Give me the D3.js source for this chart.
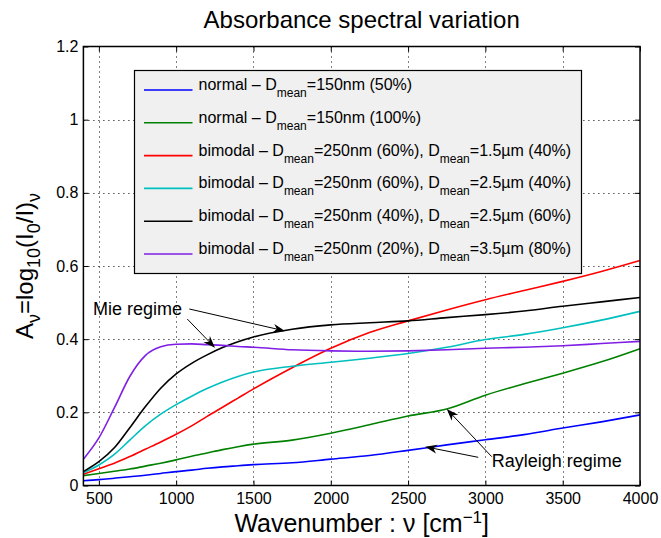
<!DOCTYPE html>
<html>
<head>
<meta charset="utf-8">
<script src="https://cdn.jsdelivr.net/npm/d3@7"></script>
<style>
  body { margin: 0; background: #fff; }
  svg { font-family: "Liberation Sans", Arial, Helvetica, sans-serif; }
</style>
</head>
<body>
<div id="chart"></div>
<script>
// --- Data ---
const wavenumber = [400, 500, 600, 700, 800, 900, 1000, 1100, 1200, 1300, 1400, 1500,
                    1750, 2000, 2250, 2500, 2750, 3000, 3250, 3500, 3750, 4000];

const normal50   = [0.013, 0.016, 0.020, 0.024, 0.028, 0.033, 0.038, 0.042, 0.047, 0.051, 0.054, 0.057,
                    0.062, 0.072, 0.082, 0.096, 0.111, 0.125, 0.139, 0.157, 0.174, 0.193];
const normal100  = [0.027, 0.033, 0.039, 0.045, 0.053, 0.061, 0.070, 0.080, 0.089, 0.098, 0.106, 0.113,
                    0.124, 0.143, 0.166, 0.190, 0.209, 0.247, 0.278, 0.307, 0.338, 0.374];
const bimodal15  = [0.031, 0.046, 0.061, 0.079, 0.099, 0.119, 0.140, 0.163, 0.189, 0.214, 0.239, 0.264,
                    0.322, 0.375, 0.418, 0.450, 0.480, 0.508, 0.533, 0.558, 0.585, 0.615];
const bimodal25a = [0.035, 0.056, 0.085, 0.124, 0.163, 0.195, 0.221, 0.244, 0.265, 0.283, 0.298, 0.310,
                    0.326, 0.337, 0.348, 0.361, 0.378, 0.399, 0.413, 0.431, 0.452, 0.476];
const bimodal25b = [0.038, 0.065, 0.103, 0.158, 0.215, 0.266, 0.305, 0.334, 0.357, 0.377, 0.393, 0.406,
                    0.427, 0.439, 0.445, 0.450, 0.459, 0.467, 0.477, 0.490, 0.502, 0.514];
const bimodal35  = [0.072, 0.130, 0.212, 0.298, 0.355, 0.379, 0.386, 0.387, 0.385, 0.383, 0.380, 0.378,
                    0.371, 0.368, 0.367, 0.368, 0.371, 0.375, 0.378, 0.382, 0.388, 0.394];

const seriesLabels = [
  "normal – D_{mean}=150nm (50%)",
  "normal – D_{mean}=150nm (100%)",
  "bimodal – D_{mean}=250nm (60%), D_{mean}=1.5µm (40%)",
  "bimodal – D_{mean}=250nm (60%), D_{mean}=2.5µm (40%)",
  "bimodal – D_{mean}=250nm (40%), D_{mean}=2.5µm (60%)",
  "bimodal – D_{mean}=250nm (20%), D_{mean}=3.5µm (80%)"
];
const seriesColors = ["#0000ff", "#008000", "#ff0000", "#00bfbf", "#000000", "#7f1fe6"];
const seriesValues = [normal50, normal100, bimodal15, bimodal25a, bimodal25b, bimodal35];

const xTicks = [500, 1000, 1500, 2000, 2500, 3000, 3500, 4000];
const yTicks = [0, 0.2, 0.4, 0.6, 0.8, 1, 1.2];

// annotation arrows in data units: [from, to]
const mieArrows = [[[1085, 0.4825], [1704, 0.4224]], [[1072, 0.455], [1251, 0.3767]]];
const rayleighArrows = [[[3041, 0.0788], [2750, 0.209]], [[2954, 0.077], [2610, 0.106]]];

// --- Layout ---
const width = 661, height = 538;
const plot = { left: 83.4, right: 640, top: 46.5, bottom: 485.5 };

const svg = d3.select("#chart").append("svg")
    .attr("width", width)
    .attr("height", height);

const x = d3.scaleLinear().domain([400, 4000]).range([plot.left, plot.right]);
const y = d3.scaleLinear().domain([0, 1.2]).range([plot.bottom, plot.top]);

// helper: text with _{sub} / ^{sup} markup
function richText(sel, str, size, subSize, shift) {
  const parts = str.split(/(_\{[^}]*\}|\^\{[^}]*\})/).filter(s => s.length);
  let offset = 0;
  parts.forEach(p => {
    const t = sel.append("tspan");
    let dy = 0;
    if (p.startsWith("_{")) {
      dy = shift - offset; offset = shift;
      t.text(p.slice(2, -1)).attr("font-size", subSize);
    } else if (p.startsWith("^{")) {
      dy = -shift * 1.1 - offset; offset = -shift * 1.1;
      t.text(p.slice(2, -1)).attr("font-size", subSize);
    } else {
      dy = -offset; offset = 0;
      t.text(p).attr("font-size", size);
    }
    if (dy !== 0) t.attr("dy", dy);
  });
}

// --- Grid (dotted) ---
const grid = svg.append("g").attr("stroke", "#000").attr("stroke-width", 1)
    .attr("stroke-dasharray", "1,4");
grid.selectAll(".vg").data(xTicks.filter(d => d < 4000)).join("line")
    .attr("x1", d => Math.round(x(d)) + 0.5).attr("x2", d => Math.round(x(d)) + 0.5)
    .attr("y1", plot.top).attr("y2", plot.bottom);
grid.selectAll(".hg").data(yTicks.filter(d => d > 0 && d < 1.2)).join("line")
    .attr("y1", d => Math.round(y(d)) + 0.5).attr("y2", d => Math.round(y(d)) + 0.5)
    .attr("x1", plot.left).attr("x2", plot.right);

// --- Axes (inward ticks on all four sides) ---
const fmt = d3.format("~g");
svg.append("g").attr("transform", `translate(0,${plot.bottom})`)
    .call(d3.axisBottom(x).tickValues(xTicks).tickSizeInner(-5).tickSizeOuter(0).tickPadding(7).tickFormat(fmt))
    .call(g => g.select(".domain").remove());
svg.append("g").attr("transform", `translate(0,${plot.top})`)
    .call(d3.axisTop(x).tickValues(xTicks).tickSizeInner(-5).tickSizeOuter(0).tickFormat(""))
    .call(g => g.select(".domain").remove());
svg.append("g").attr("transform", `translate(${plot.left},0)`)
    .call(d3.axisLeft(y).tickValues(yTicks).tickSizeInner(-5).tickSizeOuter(0).tickPadding(5).tickFormat(fmt))
    .call(g => g.select(".domain").remove());
svg.append("g").attr("transform", `translate(${plot.right},0)`)
    .call(d3.axisRight(y).tickValues(yTicks).tickSizeInner(-5).tickSizeOuter(0).tickFormat(""))
    .call(g => g.select(".domain").remove());

svg.selectAll(".tick text").attr("font-size", 16).attr("fill", "#000")
    .attr("font-family", '"Liberation Sans", Arial, sans-serif');
svg.selectAll(".tick line").attr("stroke", "#000");

// --- Data lines ---
const line = d3.line()
    .x(d => x(d[0]))
    .y(d => y(d[1]))
    .curve(d3.curveMonotoneX);

svg.append("g").selectAll("path")
    .data(seriesValues)
    .join("path")
    .attr("fill", "none")
    .attr("stroke", (d, i) => seriesColors[i])
    .attr("stroke-width", 1.6)
    .attr("d", vals => line(wavenumber.map((w, j) => [w, vals[j]])));

// --- Box ---
svg.append("rect")
    .attr("x", plot.left).attr("y", plot.top)
    .attr("width", plot.right - plot.left).attr("height", plot.bottom - plot.top)
    .attr("fill", "none").attr("stroke", "#000").attr("stroke-width", 1.5);

// --- Legend ---
const legend = svg.append("g").attr("transform", "translate(134,70)");
legend.append("rect")
    .attr("x", 0.5).attr("y", 0.5).attr("width", 447).attr("height", 203)
    .attr("fill", "#f0f0f0").attr("stroke", "#000").attr("stroke-width", 1.2);
seriesLabels.forEach((lab, i) => {
  const ry = 20 + i * 32.8;
  legend.append("line")
      .attr("x1", 10).attr("x2", 58.5).attr("y1", ry).attr("y2", ry)
      .attr("stroke", seriesColors[i]).attr("stroke-width", 1.6);
  const t = legend.append("text").attr("x", 64.5).attr("y", ry).attr("fill", "#000");
  richText(t, lab, 16, 12, 7);
});

// --- Annotations ---
function arrow(g, from, to) {
  const x1 = x(from[0]), y1 = y(from[1]), x2 = x(to[0]), y2 = y(to[1]);
  const ang = Math.atan2(y2 - y1, x2 - x1);
  const L = 12, W = 4.5;
  g.append("line").attr("x1", x1).attr("y1", y1)
      .attr("x2", x2 - Math.cos(ang) * 8).attr("y2", y2 - Math.sin(ang) * 8)
      .attr("stroke", "#000").attr("stroke-width", 1);
  const pts = [[0, 0], [-L, -W], [-L * 0.7, 0], [-L, W]].map(([px, py]) => [
    x2 + px * Math.cos(ang) - py * Math.sin(ang),
    y2 + px * Math.sin(ang) + py * Math.cos(ang)
  ]);
  g.append("polygon").attr("points", pts.map(p => p.join(",")).join(" ")).attr("fill", "#000");
}
const ann = svg.append("g");
mieArrows.forEach(a => arrow(ann, a[0], a[1]));
rayleighArrows.forEach(a => arrow(ann, a[0], a[1]));
ann.append("text").attr("x", x(462)).attr("y", y(0.466))
    .attr("font-size", 18).text("Mie regime");
ann.append("text").attr("x", x(3041)).attr("y", y(0.0514))
    .attr("font-size", 18).text("Rayleigh regime");

// --- Titles ---
svg.append("text").attr("x", (plot.left + plot.right) / 2).attr("y", 28)
    .attr("text-anchor", "middle").attr("font-size", 24).text("Absorbance spectral variation");

const xl = svg.append("text").attr("x", (plot.left + plot.right) / 2).attr("y", 532)
    .attr("text-anchor", "middle");
richText(xl, "Wavenumber : ν [cm^{−1}]", 25, 17, 8);

const yl = svg.append("text")
    .attr("transform", `translate(33,${(plot.top + plot.bottom) / 2}) rotate(-90)`)
    .attr("text-anchor", "middle");
richText(yl, "A_{ν}=log_{10}(I_{0}/I)_{ν}", 24, 18, 7);
</script>
</body>
</html>
